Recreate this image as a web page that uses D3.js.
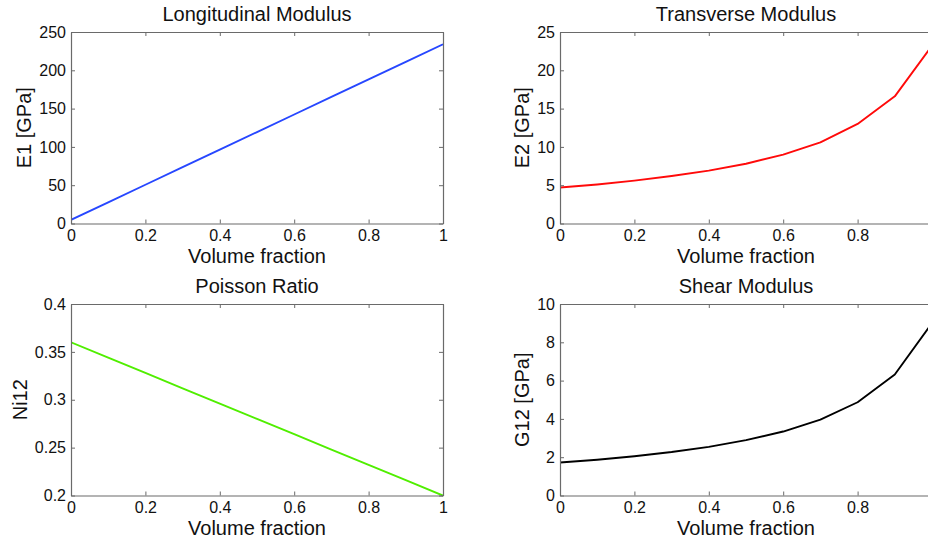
<!DOCTYPE html>
<html>
<head>
<meta charset="utf-8">
<script src="https://cdn.jsdelivr.net/npm/d3@7"></script>
<style>
  html, body { margin: 0; padding: 0; background: #fff; }
  svg { display: block; font-family: "Liberation Sans", Arial, Helvetica, sans-serif; }
</style>
</head>
<body>
<svg id="fig" width="928" height="542"></svg>
<script>
// Fibre volume fraction sample points
const volumeFraction = [0, 0.1, 0.2, 0.3, 0.4, 0.5, 0.6, 0.7, 0.8, 0.9, 1.0];

// Composite properties at each volume fraction
const e1Values  = [4.7, 27.6, 50.6, 73.5, 96.4, 119.4, 142.3, 165.2, 188.2, 211.1, 234.0];
const e2Values  = [4.7, 5.1, 5.6, 6.2, 6.9, 7.8, 9.0, 10.6, 13.0, 16.6, 23.2];
const nu12Values = [0.36, 0.344, 0.328, 0.312, 0.296, 0.28, 0.264, 0.248, 0.232, 0.216, 0.2];
const g12Values = [1.72, 1.87, 2.05, 2.27, 2.54, 2.89, 3.34, 3.96, 4.87, 6.32, 9.0];

// Tick labels
const xTicks    = [0, 0.2, 0.4, 0.6, 0.8, 1];
const e1Ticks   = [0, 50, 100, 150, 200, 250];
const e2Ticks   = [0, 5, 10, 15, 20, 25];
const nu12Ticks = [0.2, 0.25, 0.3, 0.35, 0.4];
const g12Ticks  = [0, 2, 4, 6, 8, 10];

// Titles and axis labels
const titles  = ["Longitudinal Modulus", "Transverse Modulus", "Poisson Ratio", "Shear Modulus"];
const yLabels = ["E1 [GPa]", "E2 [GPa]", "Ni12", "G12 [GPa]"];
const xLabel  = "Volume fraction";

const series = [e1Values, e2Values, nu12Values, g12Values];
const yTickSets = [e1Ticks, e2Ticks, nu12Ticks, g12Ticks];

// Subplot layout (2 x 2 grid)
const layout = [
  { left: 71,  top: 32,  color: "#2747ff" },
  { left: 560, top: 32,  color: "#ff0a0a" },
  { left: 71,  top: 304, color: "#50ee00" },
  { left: 560, top: 304, color: "#000000" }
];
const figW = 928;
const plotW = 372, plotH = 191.5;
const tickLen = 4;
const axisColor = "#6a6a6a";

const svg = d3.select("#fig");

layout.forEach((cfg, i) => {
  const yTicks = yTickSets[i];
  const x = d3.scaleLinear().domain([0, 1]).range([0, plotW]);
  const y = d3.scaleLinear().domain([yTicks[0], yTicks[yTicks.length - 1]]).range([plotH, 0]);

  const g = svg.append("g").attr("transform", `translate(${cfg.left},${cfg.top})`);

  const clipId = "clip" + i;
  g.append("clipPath").attr("id", clipId)
    .append("rect").attr("x", 0).attr("y", -2).attr("width", plotW).attr("height", plotH + 4);

  // Data line
  const line = d3.line().x((d, k) => x(volumeFraction[k])).y(d => y(d));
  g.append("path")
    .datum(series[i])
    .attr("clip-path", `url(#${clipId})`)
    .attr("fill", "none")
    .attr("stroke", cfg.color)
    .attr("stroke-width", 1.9)
    .attr("stroke-linejoin", "round")
    .attr("d", line);

  // Axes: ticks point inward on all four sides, labels on left and bottom
  const fmt = d => String(+d.toFixed(4));
  const bottom = g.append("g").attr("transform", `translate(0,${plotH})`)
    .call(d3.axisBottom(x).tickValues(xTicks).tickSizeInner(-tickLen).tickSizeOuter(0).tickPadding(6).tickFormat(fmt));
  const top = g.append("g")
    .call(d3.axisTop(x).tickValues(xTicks).tickSizeInner(-tickLen).tickSizeOuter(0).tickFormat(""));
  const leftAx = g.append("g")
    .call(d3.axisLeft(y).tickValues(yTicks).tickSizeInner(-tickLen).tickSizeOuter(0).tickPadding(5).tickFormat(fmt));
  const rightAx = g.append("g").attr("transform", `translate(${plotW},0)`)
    .call(d3.axisRight(y).tickValues(yTicks).tickSizeInner(-tickLen).tickSizeOuter(0).tickFormat(""));

  [bottom, top, leftAx, rightAx].forEach(a => {
    a.select(".domain").attr("stroke", axisColor).attr("stroke-width", 1.2);
    a.selectAll(".tick line").attr("stroke", axisColor).attr("stroke-width", 1);
    a.selectAll("text").attr("font-size", 16).attr("fill", "#111")
      .attr("font-family", "'Liberation Sans', Arial, sans-serif");
  });
  bottom.selectAll("text").attr("dy", "0.72em");

  // Tick labels falling past the figure's right edge are not drawn
  bottom.selectAll(".tick text").each(function (d) {
    if (cfg.left + x(d) + 3 > figW) d3.select(this).remove();
  });

  // Title
  g.append("text")
    .attr("x", plotW / 2).attr("y", -11)
    .attr("text-anchor", "middle")
    .attr("font-size", 20).attr("fill", "#111")
    .text(titles[i]);

  // X label
  g.append("text")
    .attr("x", plotW / 2).attr("y", plotH + 39.5)
    .attr("text-anchor", "middle")
    .attr("font-size", 20).attr("fill", "#111")
    .text(xLabel);

  // Y label placed just left of the widest tick label
  let maxW = 0;
  leftAx.selectAll(".tick text").each(function () {
    maxW = Math.max(maxW, this.getComputedTextLength());
  });
  const labelX = -(5 + maxW + 8);
  g.append("text")
    .attr("transform", `translate(${labelX},${plotH / 2}) rotate(-90)`)
    .attr("text-anchor", "middle")
    .attr("font-size", 20).attr("fill", "#111")
    .text(yLabels[i]);
});
</script>
</body>
</html>
